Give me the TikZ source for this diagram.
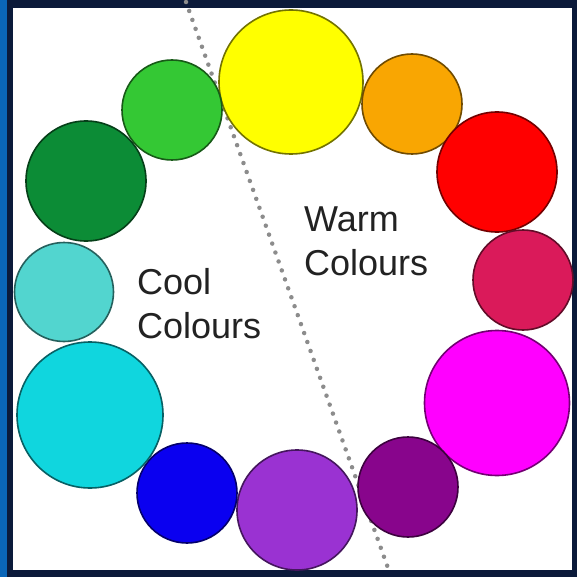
\documentclass[tikz,border=0pt]{standalone}
\usepackage{fontspec}
\setmainfont{Liberation Sans}
\usetikzlibrary{positioning}
\definecolor{frameblue}{HTML}{0A66B8}
\definecolor{framenavy}{HTML}{0B1A3A}
\definecolor{textgrey}{HTML}{222222}
\definecolor{cyellow}{HTML}{FFFF00}
\definecolor{corange}{HTML}{F9A602}
\definecolor{cred}{HTML}{FF0000}
\definecolor{ccrimson}{HTML}{DA1A5A}
\definecolor{cmagenta}{HTML}{FF00FF}
\definecolor{cplum}{HTML}{88058C}
\definecolor{cviolet}{HTML}{9A32D2}
\definecolor{cblue}{HTML}{0A00F0}
\definecolor{ccyan}{HTML}{10D6DE}
\definecolor{cteal}{HTML}{52D5CF}
\definecolor{cforest}{HTML}{0C8C36}
\definecolor{cgreen}{HTML}{34C834}

\begin{document}
\begin{tikzpicture}[
    x=1pt, y=-1pt,
    ball/.style={circle, draw=#1!45!black, fill=#1, line width=1.6pt, inner sep=0pt},
    label/.style={anchor=north west, inner sep=0pt, align=left, text=textgrey,
        font=\fontsize{36}{44}\selectfont}
]
    % frame
    \fill[frameblue] (0,0) rectangle (577,577);
    \fill[framenavy] (7,0) rectangle (577,577);
    \fill[white] (13,8) rectangle (572,570);
    \useasboundingbox (0,0) rectangle (577,577);

    % divider
    \coordinate (top) at (186,2);
    \coordinate (bottom) at (388,568);
    \draw[gray!90, line width=4.5pt, line cap=round, dash pattern=on 0pt off 9.5pt] (top) -- (bottom);

    % warm side
    \node[ball=cyellow, minimum size=144pt] (yellow) at (291,82) {};
    \node[ball=corange, minimum size=100pt] (orange) at (412,104) {};
    \node[ball=cred, minimum size=120pt] (red) at (497,172) {};
    \node[ball=ccrimson, minimum size=100pt] (crimson) at (523,280) {};
    \node[ball=cmagenta, minimum size=145pt] (magenta) at (497,403) {};
    \node[ball=cplum, minimum size=100pt] (plum) at (408,487) {};
    % cool side
    \node[ball=cviolet, minimum size=120pt] (violet) at (297,510) {};
    \node[ball=cblue, minimum size=100pt] (blue) at (187,493) {};
    \node[ball=ccyan, minimum size=146pt] (cyan) at (90,415) {};
    \node[ball=cteal, minimum size=99pt] (teal) at (64,292) {};
    \node[ball=cforest, minimum size=120pt] (forest) at (86,181) {};
    \node[ball=cgreen, minimum size=100pt] (green) at (172,110) {};

    \node[label] (warm) at (304,207) {Warm\\Colours};
    \node[label] (cool) at (137,268) {Cool\\Colours};
\end{tikzpicture}
\end{document}
